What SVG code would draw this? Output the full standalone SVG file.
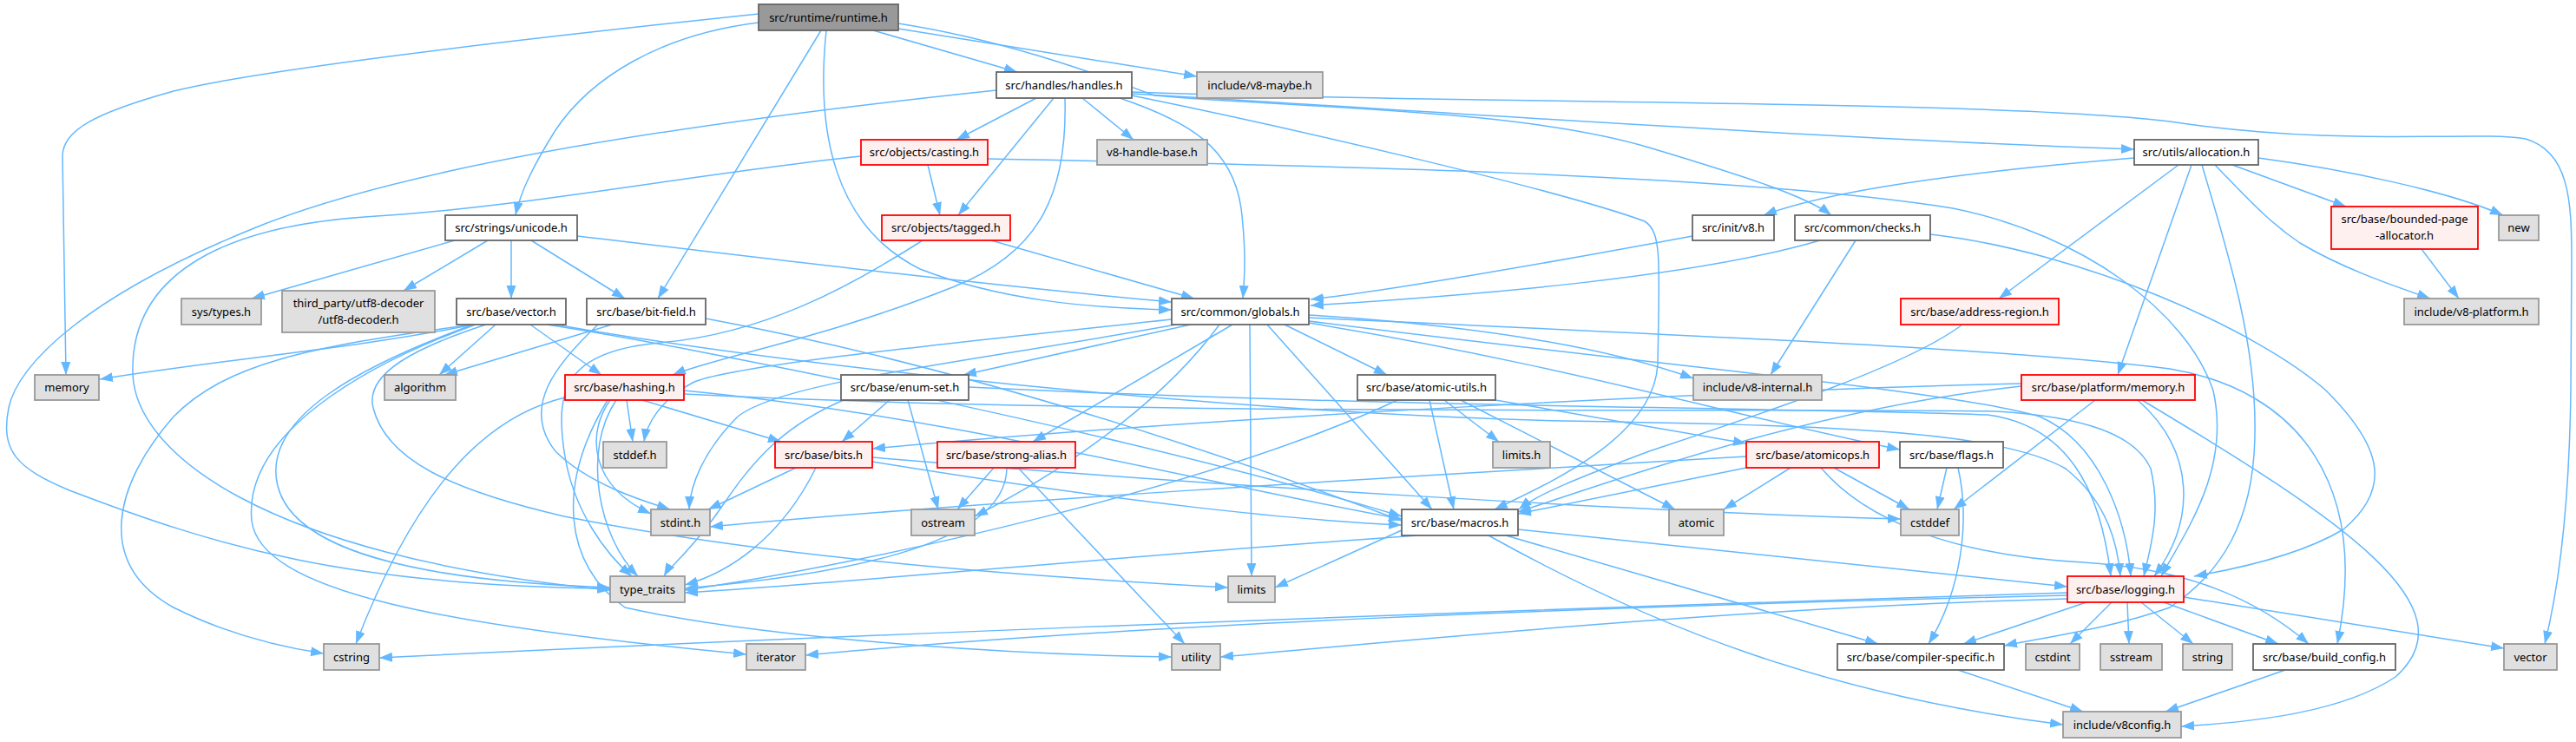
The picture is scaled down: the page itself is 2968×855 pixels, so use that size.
<svg xmlns="http://www.w3.org/2000/svg" width="2968" height="855" viewBox="0 0 2968 855">
<style>
.e{fill:none;stroke:#63B8FF;stroke-width:1.5;marker-end:url(#a)}
.w{fill:#FFFFFF;stroke:#666666;stroke-width:1.8}
.g{fill:#E0E0E0;stroke:#999999;stroke-width:1.8}
.r{fill:#FFF0F0;stroke:#FF0000;stroke-width:1.8}
.k{fill:#999999;stroke:#666666;stroke-width:1.8}
text{font-family:"Noto Sans","Open Sans","Liberation Sans",sans-serif;font-size:13px;fill:#000;text-anchor:middle}
</style>
<defs>
<marker id="a" markerUnits="userSpaceOnUse" markerWidth="16" markerHeight="12" refX="15" refY="6" orient="auto"><path d="M0,0.5 L15,6 L0,11.5 z" fill="#63B8FF"/></marker>
</defs>
<rect width="2968" height="855" fill="#FFFFFF"/>
<g id="edges">
<path class="e" d="M874,16 C600,45 300,80 200,105 C110,130 72,150 72,180 L76,432"/>
<path class="e" d="M874,26 C760,40 680,90 640,150 C615,190 600,220 594,248"/>
<path class="e" d="M946,35 L758,344"/>
<path class="e" d="M952,35 C940,150 960,260 1060,310 C1150,345 1250,355 1350,357"/>
<path class="e" d="M1006,35 L1172,83"/>
<path class="e" d="M1035,33 C1200,60 1300,75 1379,88"/>
<path class="e" d="M1035,27 C1150,45 1250,80 1330,110 C1500,125 1750,125 1900,170 C2000,200 2080,225 2110,248"/>
<path class="e" d="M1148,104 C900,130 500,180 300,260 C100,340 20,420 10,470 C0,520 20,540 80,565 C250,630 400,675 703,678"/>
<path class="e" d="M1194,113 L1102,161"/>
<path class="e" d="M1214,113 L1104,248"/>
<path class="e" d="M1227,113 C1230,220 1200,290 1100,330 C950,390 830,410 775,432"/>
<path class="e" d="M1247,113 L1306,161"/>
<path class="e" d="M1290,113 C1370,140 1420,170 1430,240 C1436,290 1434,320 1432,344"/>
<path class="e" d="M1304,110 C1500,150 1800,220 1895,255 C1915,268 1912,300 1910,420 C1905,500 1800,550 1722,587"/>
<path class="e" d="M1304,108 C1600,125 2100,160 2459,172"/>
<path class="e" d="M1304,106 C1700,120 2300,115 2500,140 C2700,170 2850,150 2910,160 C2960,175 2963,230 2963,300 L2962,450 C2960,600 2945,690 2932,742"/>
<path class="e" d="M992,180 C800,200 600,240 420,250 C250,262 150,320 153,430 C155,520 300,640 703,680"/>
<path class="e" d="M1069,190 L1083,248"/>
<path class="e" d="M1138,183 C1500,190 2000,200 2250,240 C2400,270 2520,360 2550,450 C2570,540 2520,610 2490,664"/>
<path class="e" d="M1142,277 L1376,344"/>
<path class="e" d="M1063,277 C980,330 880,385 760,395 C650,405 640,450 650,520 C660,590 700,640 728,664"/>
<path class="e" d="M524,277 L290,344"/>
<path class="e" d="M562,277 L465,335"/>
<path class="e" d="M589,277 L589,344"/>
<path class="e" d="M612,277 L720,344"/>
<path class="e" d="M665,272 C900,300 1150,330 1350,348"/>
<path class="e" d="M1950,272 C1800,300 1600,335 1510,345"/>
<path class="e" d="M2097,277 C1950,320 1700,340 1510,352"/>
<path class="e" d="M2138,277 L2040,432"/>
<path class="e" d="M2224,270 C2400,290 2600,380 2680,450 C2740,510 2760,560 2700,610 C2650,640 2580,655 2528,664"/>
<path class="e" d="M2459,182 C2300,195 2120,215 2032,248"/>
<path class="e" d="M2510,190 L2303,344"/>
<path class="e" d="M2525,190 L2440,432"/>
<path class="e" d="M2537,190 C2570,300 2600,400 2598,500 C2597,600 2560,660 2500,700 C2430,725 2350,735 2309,744"/>
<path class="e" d="M2552,190 C2600,240 2620,260 2650,280 C2700,310 2760,330 2800,344"/>
<path class="e" d="M2572,190 L2703,238"/>
<path class="e" d="M2602,182 C2700,195 2820,220 2884,248"/>
<path class="e" d="M2790,287 L2833,344"/>
<path class="e" d="M2261,374 C2200,420 2050,470 1900,520 C1820,550 1770,570 1750,587"/>
<path class="e" d="M545,374 C420,400 250,415 115,437"/>
<path class="e" d="M571,374 L506,432"/>
<path class="e" d="M545,374 C350,400 260,420 200,480 C130,560 110,650 200,700 C260,730 320,745 373,753"/>
<path class="e" d="M548,374 C420,420 280,500 290,600 C300,680 500,720 860,754"/>
<path class="e" d="M560,374 C480,400 420,430 430,470 C445,530 520,565 650,595 C900,645 1200,665 1415,677"/>
<path class="e" d="M545,374 C420,420 300,480 320,560 C340,640 500,670 703,677"/>
<path class="e" d="M611,374 L693,432"/>
<path class="e" d="M630,374 C800,400 1300,500 1615,595"/>
<path class="e" d="M640,374 C900,420 1400,475 1800,485 C2100,490 2300,495 2380,540 C2430,580 2440,630 2443,664"/>
<path class="e" d="M705,374 L512,432"/>
<path class="e" d="M689,374 C640,420 600,470 640,520 C680,560 750,580 772,587"/>
<path class="e" d="M813,367 C1100,420 1400,520 1615,600"/>
<path class="e" d="M1350,368 C1100,395 850,420 800,440 C760,460 745,490 742,509"/>
<path class="e" d="M1355,374 C1100,420 900,440 850,480 C810,520 795,560 794,587"/>
<path class="e" d="M1372,374 L1110,432"/>
<path class="e" d="M1480,374 L1598,432"/>
<path class="e" d="M1420,374 L1190,509"/>
<path class="e" d="M1405,374 C1350,450 1250,530 1123,595"/>
<path class="e" d="M1440,374 L1442,664"/>
<path class="e" d="M1460,374 L1650,587"/>
<path class="e" d="M1508,363 C1700,375 1850,400 1951,436"/>
<path class="e" d="M1508,370 C1900,420 2250,450 2350,480 C2420,510 2450,600 2455,664"/>
<path class="e" d="M1508,372 C1800,420 2000,480 2189,518"/>
<path class="e" d="M1508,366 C1900,385 2300,400 2500,425 C2650,450 2730,560 2693,742"/>
<path class="e" d="M722,461 L729,509"/>
<path class="e" d="M703,461 C675,500 680,560 750,592"/>
<path class="e" d="M651,458 C560,480 480,560 410,742"/>
<path class="e" d="M710,461 C670,520 690,620 735,664"/>
<path class="e" d="M700,461 C640,560 650,650 720,700 C900,740 1200,755 1350,757"/>
<path class="e" d="M740,461 L900,509"/>
<path class="e" d="M788,450 C1100,480 1400,560 1615,598"/>
<path class="e" d="M788,454 C1300,480 2000,470 2300,474 C2400,480 2460,500 2478,540 C2490,590 2478,630 2470,664"/>
<path class="e" d="M1025,461 L970,509"/>
<path class="e" d="M1046,461 L1081,587"/>
<path class="e" d="M972,461 C880,500 850,560 820,600 C790,640 770,655 765,664"/>
<path class="e" d="M1116,446 C1600,470 2100,470 2290,478 C2380,490 2420,560 2432,664"/>
<path class="e" d="M917,539 L816,587"/>
<path class="e" d="M940,539 C900,620 840,660 789,674"/>
<path class="e" d="M1005,532 C1300,580 1500,600 1615,605"/>
<path class="e" d="M1005,527 C1400,560 1900,590 2190,598"/>
<path class="e" d="M1145,539 L1103,587"/>
<path class="e" d="M1160,539 C1160,620 1000,660 789,678"/>
<path class="e" d="M1173,539 L1365,742"/>
<path class="e" d="M1664,461 L1727,509"/>
<path class="e" d="M1683,461 L1930,587"/>
<path class="e" d="M1647,461 L1675,587"/>
<path class="e" d="M1723,461 L2012,511"/>
<path class="e" d="M1610,461 C1400,560 1000,650 789,680"/>
<path class="e" d="M2012,526 C1600,550 1100,580 818,607"/>
<path class="e" d="M2063,539 L1986,587"/>
<path class="e" d="M2113,539 L2200,587"/>
<path class="e" d="M2012,539 L1749,592"/>
<path class="e" d="M2098,539 C2150,600 2250,640 2400,648 C2520,655 2600,690 2660,742"/>
<path class="e" d="M2243,539 L2232,587"/>
<path class="e" d="M2256,539 C2270,600 2260,680 2222,742"/>
<path class="e" d="M2329,442 C2000,450 1400,480 1005,517"/>
<path class="e" d="M2329,445 C2100,470 1900,540 1749,590"/>
<path class="e" d="M2414,461 L2251,587"/>
<path class="e" d="M2463,461 C2530,520 2530,600 2482,664"/>
<path class="e" d="M2468,461 C2700,600 2850,700 2760,780 C2700,820 2600,832 2513,837"/>
<path class="e" d="M1634,617 C1300,640 1000,670 789,683"/>
<path class="e" d="M1615,611 L1469,677"/>
<path class="e" d="M1735,617 L2164,742"/>
<path class="e" d="M1715,617 C1900,720 2100,800 2377,835"/>
<path class="e" d="M1749,610 L2382,676"/>
<path class="e" d="M2404,694 L2262,742"/>
<path class="e" d="M2433,694 L2385,742"/>
<path class="e" d="M2451,694 L2453,742"/>
<path class="e" d="M2467,694 L2527,742"/>
<path class="e" d="M2493,694 L2625,742"/>
<path class="e" d="M2516,688 L2885,747"/>
<path class="e" d="M2382,683 C1500,710 800,740 437,758"/>
<path class="e" d="M2382,686 C1800,700 1300,720 928,755"/>
<path class="e" d="M2382,690 C2000,700 1600,740 1406,757"/>
<path class="e" d="M2256,772 L2400,820"/>
<path class="e" d="M2633,772 L2495,820"/>
</g>
<g id="n_runtime"><rect class="k" x="874" y="5" width="161" height="30"/><text x="954.5" y="24.5">src/runtime/runtime.h</text></g>
<g id="n_handles"><rect class="w" x="1148" y="83" width="156" height="30"/><text x="1226" y="102.5">src/handles/handles.h</text></g>
<g id="n_maybe"><rect class="g" x="1379" y="83" width="145" height="30"/><text x="1451.5" y="102.5">include/v8-maybe.h</text></g>
<g id="n_casting"><rect class="r" x="992" y="161" width="146" height="29"/><text x="1065" y="180">src/objects/casting.h</text></g>
<g id="n_hbase"><rect class="g" x="1264" y="161" width="127" height="29"/><text x="1327.5" y="180">v8-handle-base.h</text></g>
<g id="n_alloc"><rect class="w" x="2459" y="161" width="143" height="29"/><text x="2530.5" y="180">src/utils/allocation.h</text></g>
<g id="n_tagged"><rect class="r" x="1016" y="248" width="148" height="29"/><text x="1090" y="267">src/objects/tagged.h</text></g>
<g id="n_unicode"><rect class="w" x="513" y="248" width="152" height="29"/><text x="589" y="267">src/strings/unicode.h</text></g>
<g id="n_initv8"><rect class="w" x="1950" y="248" width="94" height="29"/><text x="1997" y="267">src/init/v8.h</text></g>
<g id="n_checks"><rect class="w" x="2068" y="248" width="156" height="29"/><text x="2146" y="267">src/common/checks.h</text></g>
<g id="n_bpa"><rect class="r" x="2686" y="238" width="169" height="49"/><text x="2770.5" y="257">src/base/bounded-page</text><text x="2770.5" y="276">-allocator.h</text></g>
<g id="n_new"><rect class="g" x="2879" y="248" width="46" height="29"/><text x="2902" y="267">new</text></g>
<g id="n_systypes"><rect class="g" x="209" y="344" width="92" height="30"/><text x="255" y="363.5">sys/types.h</text></g>
<g id="n_utf8"><rect class="g" x="325" y="335" width="176" height="48"/><text x="413" y="354">third_party/utf8-decoder</text><text x="413" y="373">/utf8-decoder.h</text></g>
<g id="n_vector"><rect class="w" x="526" y="344" width="126" height="30"/><text x="589" y="363.5">src/base/vector.h</text></g>
<g id="n_bitfield"><rect class="w" x="676" y="344" width="137" height="30"/><text x="744.5" y="363.5">src/base/bit-field.h</text></g>
<g id="n_globals"><rect class="w" x="1350" y="344" width="158" height="30"/><text x="1429" y="363.5">src/common/globals.h</text></g>
<g id="n_addr"><rect class="r" x="2190" y="344" width="182" height="30"/><text x="2281" y="363.5">src/base/address-region.h</text></g>
<g id="n_platform"><rect class="g" x="2770" y="344" width="155" height="30"/><text x="2847.5" y="363.5">include/v8-platform.h</text></g>
<g id="n_memory"><rect class="g" x="40" y="432" width="74" height="29"/><text x="77" y="451">memory</text></g>
<g id="n_algorithm"><rect class="g" x="443" y="432" width="82" height="29"/><text x="484" y="451">algorithm</text></g>
<g id="n_hashing"><rect class="r" x="651" y="432" width="137" height="29"/><text x="719.5" y="451">src/base/hashing.h</text></g>
<g id="n_enumset"><rect class="w" x="969" y="432" width="147" height="29"/><text x="1042.5" y="451">src/base/enum-set.h</text></g>
<g id="n_atomicutils"><rect class="w" x="1564" y="432" width="159" height="29"/><text x="1643.5" y="451">src/base/atomic-utils.h</text></g>
<g id="n_v8internal"><rect class="g" x="1951" y="432" width="148" height="29"/><text x="2025" y="451">include/v8-internal.h</text></g>
<g id="n_pmemory"><rect class="r" x="2329" y="432" width="200" height="29"/><text x="2429" y="451">src/base/platform/memory.h</text></g>
<g id="n_stddef"><rect class="g" x="695" y="509" width="73" height="30"/><text x="731.5" y="528.5">stddef.h</text></g>
<g id="n_bits"><rect class="r" x="893" y="509" width="112" height="30"/><text x="949" y="528.5">src/base/bits.h</text></g>
<g id="n_strongalias"><rect class="r" x="1080" y="509" width="159" height="30"/><text x="1159.5" y="528.5">src/base/strong-alias.h</text></g>
<g id="n_limitsh"><rect class="g" x="1720" y="509" width="66" height="30"/><text x="1753" y="528.5">limits.h</text></g>
<g id="n_atomicops"><rect class="r" x="2012" y="509" width="153" height="30"/><text x="2088.5" y="528.5">src/base/atomicops.h</text></g>
<g id="n_flags"><rect class="w" x="2189" y="509" width="119" height="30"/><text x="2248.5" y="528.5">src/base/flags.h</text></g>
<g id="n_stdint"><rect class="g" x="750" y="587" width="68" height="30"/><text x="784" y="606.5">stdint.h</text></g>
<g id="n_ostream"><rect class="g" x="1050" y="587" width="73" height="30"/><text x="1086.5" y="606.5">ostream</text></g>
<g id="n_macros"><rect class="w" x="1615" y="587" width="134" height="30"/><text x="1682" y="606.5">src/base/macros.h</text></g>
<g id="n_atomic"><rect class="g" x="1923" y="587" width="63" height="30"/><text x="1954.5" y="606.5">atomic</text></g>
<g id="n_cstddef"><rect class="g" x="2190" y="587" width="67" height="30"/><text x="2223.5" y="606.5">cstddef</text></g>
<g id="n_typetraits"><rect class="g" x="703" y="664" width="86" height="30"/><text x="746" y="683.5">type_traits</text></g>
<g id="n_limits"><rect class="g" x="1415" y="664" width="54" height="30"/><text x="1442" y="683.5">limits</text></g>
<g id="n_logging"><rect class="r" x="2382" y="664" width="134" height="30"/><text x="2449" y="683.5">src/base/logging.h</text></g>
<g id="n_cstring"><rect class="g" x="373" y="742" width="64" height="30"/><text x="405" y="761.5">cstring</text></g>
<g id="n_iterator"><rect class="g" x="860" y="742" width="68" height="30"/><text x="894" y="761.5">iterator</text></g>
<g id="n_utility"><rect class="g" x="1350" y="742" width="56" height="30"/><text x="1378" y="761.5">utility</text></g>
<g id="n_compiler"><rect class="w" x="2117" y="742" width="192" height="30"/><text x="2213" y="761.5">src/base/compiler-specific.h</text></g>
<g id="n_cstdint"><rect class="g" x="2334" y="742" width="62" height="30"/><text x="2365" y="761.5">cstdint</text></g>
<g id="n_sstream"><rect class="g" x="2420" y="742" width="71" height="30"/><text x="2455.5" y="761.5">sstream</text></g>
<g id="n_string"><rect class="g" x="2515" y="742" width="57" height="30"/><text x="2543.5" y="761.5">string</text></g>
<g id="n_buildconfig"><rect class="w" x="2596" y="742" width="164" height="30"/><text x="2678" y="761.5">src/base/build_config.h</text></g>
<g id="n_vectorstd"><rect class="g" x="2885" y="742" width="61" height="30"/><text x="2915.5" y="761.5">vector</text></g>
<g id="n_v8config"><rect class="g" x="2377" y="820" width="136" height="30"/><text x="2445" y="839.5">include/v8config.h</text></g>
</svg>
